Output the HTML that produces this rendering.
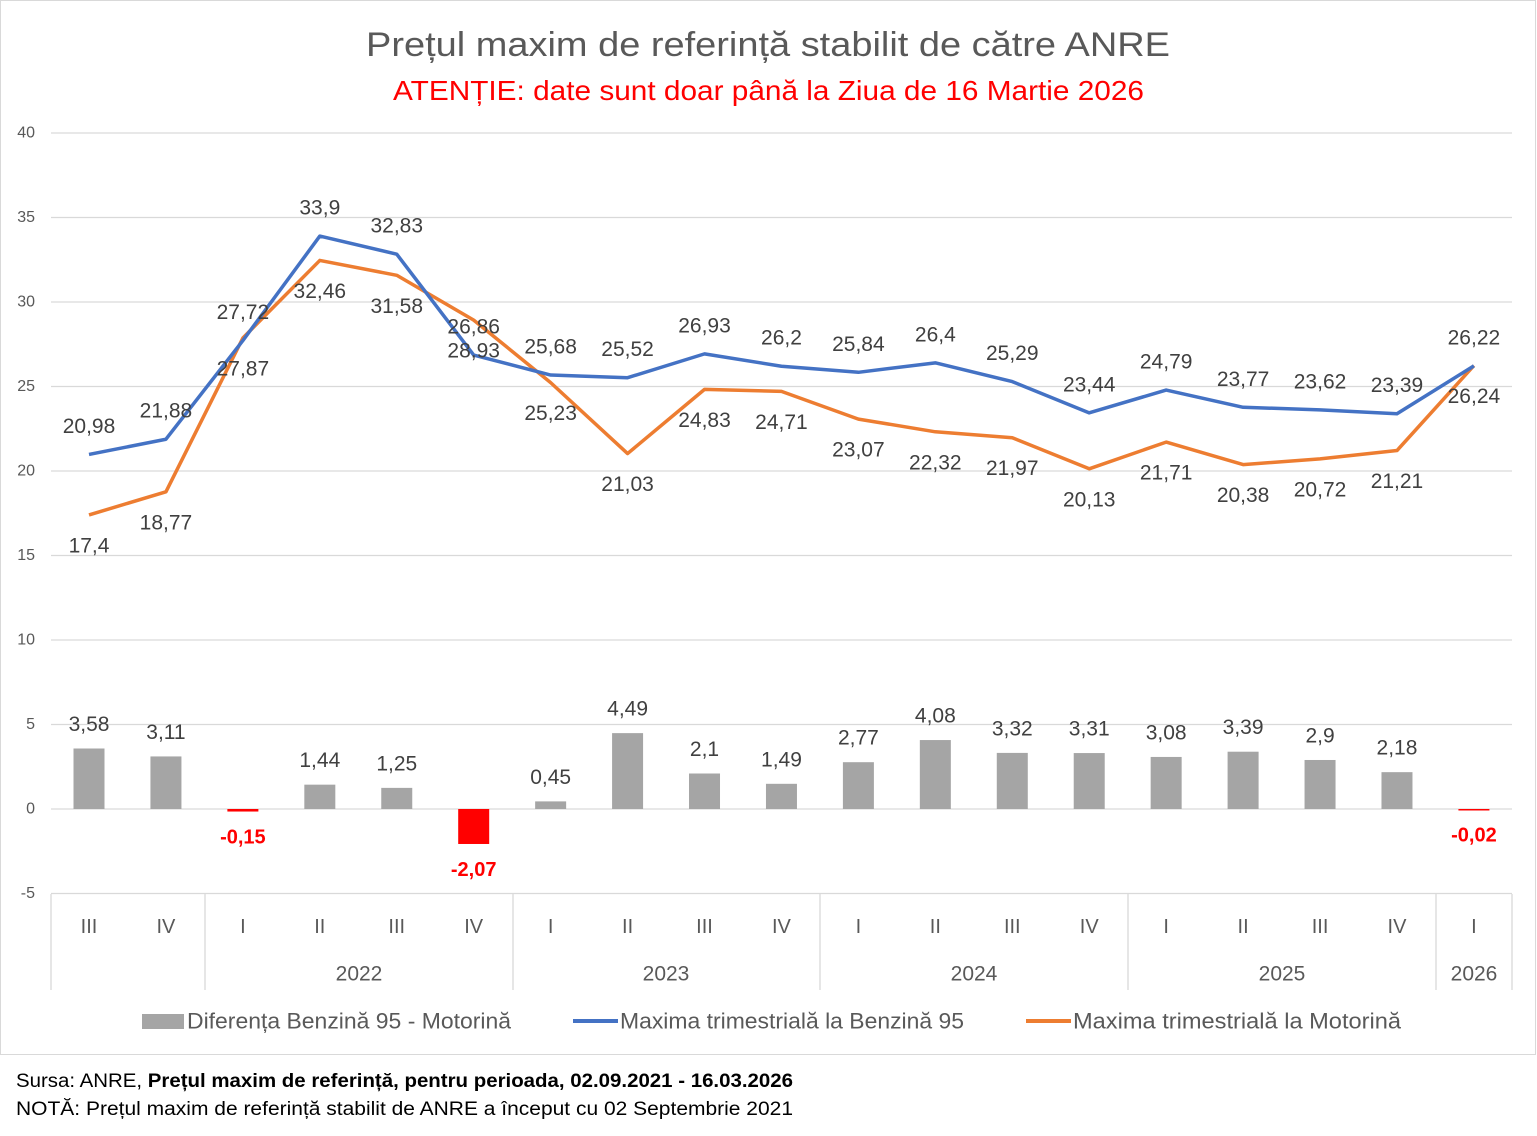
<!DOCTYPE html>
<html><head><meta charset="utf-8"><style>
body{margin:0;background:#fff;width:1537px;height:1131px;overflow:hidden;font-family:"Liberation Sans",Calibri,sans-serif}
</style></head><body>
<svg id="s" width="1537" height="1131" xmlns="http://www.w3.org/2000/svg" font-family="Liberation Sans, sans-serif">
<rect x="0.5" y="0.5" width="1535" height="1054" fill="#fff" stroke="#d9d9d9"/>
<text x="366" y="56" font-size="34" fill="#595959" textLength="804" lengthAdjust="spacingAndGlyphs">Prețul maxim de referință stabilit de către ANRE</text>
<text x="393" y="100" font-size="28" fill="#ff0000" textLength="751" lengthAdjust="spacingAndGlyphs">ATENȚIE: date sunt doar până la Ziua de 16 Martie 2026</text>
<text x="16" y="1087" font-size="19" fill="#000" textLength="777" lengthAdjust="spacingAndGlyphs">Sursa: ANRE, <tspan font-weight="bold">Prețul maxim de referință, pentru perioada, 02.09.2021 - 16.03.2026</tspan></text>
<text x="16" y="1115" font-size="19" fill="#000" textLength="777" lengthAdjust="spacingAndGlyphs">NOTĂ:  Prețul maxim de referință stabilit de ANRE a început cu 02 Septembrie 2021</text>
<g id="g"></g>
</svg>
<script>
var B=[20.98,21.88,27.72,33.9,32.83,26.86,25.68,25.52,26.93,26.2,25.84,26.4,25.29,23.44,24.79,23.77,23.62,23.39,26.22];
var O=[17.4,18.77,27.87,32.46,31.58,28.93,25.23,21.03,24.83,24.71,23.07,22.32,21.97,20.13,21.71,20.38,20.72,21.21,26.24];
var D=[3.58,3.11,-0.15,1.44,1.25,-2.07,0.45,4.49,2.1,1.49,2.77,4.08,3.32,3.31,3.08,3.39,2.9,2.18,-0.02];
var Q=["III","IV","I","II","III","IV","I","II","III","IV","I","II","III","IV","I","II","III","IV","I"];
function X(i){return 89+76.94*i}function Y(v){return 809-16.9*v}
function f(v){return String(v).replace('.',',')}
var h='';
for(var k=0;k<=9;k++){var v=40-5*k,y=Y(v);h+='<line x1="51" x2="1512" y1="'+y+'" y2="'+y+'" stroke="#d9d9d9" stroke-width="1.3"/>';
h+='<text x="35" y="'+y+'" text-anchor="end" font-size="16" fill="#595959" dominant-baseline="central">'+v+'</text>';}
[51,205,513,820,1128,1436,1512].forEach(function(x){h+='<line x1="'+x+'" x2="'+x+'" y1="894" y2="990" stroke="#d9d9d9" stroke-width="1.3"/>'});
Q.forEach(function(q,i){h+='<text x="'+X(i)+'" y="927" text-anchor="middle" font-size="20" fill="#595959" dominant-baseline="central">'+q+'</text>'});
[[359,"2022"],[666,"2023"],[974,"2024"],[1282,"2025"],[1474,"2026"]].forEach(function(a){h+='<text x="'+a[0]+'" y="974" text-anchor="middle" font-size="21" fill="#595959" dominant-baseline="central">'+a[1]+'</text>'});
D.forEach(function(d,i){var x=X(i)-15.5,y0=Y(0),y1=Y(d);var neg=d<0;
h+='<rect x="'+x+'" y="'+Math.min(y0,y1)+'" width="31" height="'+Math.max(1.5,Math.abs(y1-y0))+'" fill="'+(neg?'#ff0000':'#a5a5a5')+'"/>';
if(neg)h+='<text x="'+X(i)+'" y="'+(y1+26)+'" text-anchor="middle" font-size="20" font-weight="bold" fill="#ff0000" dominant-baseline="central">'+f(d)+'</text>';
else h+='<text x="'+X(i)+'" y="'+(y1-24)+'" text-anchor="middle" font-size="21" fill="#404040" dominant-baseline="central">'+f(d)+'</text>';});
function line(a,c){return '<polyline fill="none" stroke="'+c+'" stroke-width="3.5" stroke-linejoin="round" points="'+a.map(function(v,i){return X(i)+','+Y(v)}).join(' ')+'"/>'}
h+=line(O,'#ed7d31')+line(B,'#4472c4');
B.forEach(function(v,i){h+='<text x="'+X(i)+'" y="'+(Y(v)-28)+'" text-anchor="middle" font-size="21" fill="#404040" dominant-baseline="central">'+f(v)+'</text>'});
O.forEach(function(v,i){h+='<text x="'+X(i)+'" y="'+(Y(v)+31)+'" text-anchor="middle" font-size="21" fill="#404040" dominant-baseline="central">'+f(v)+'</text>'});
h+='<rect x="142" y="1014" width="42" height="15" fill="#a5a5a5"/><text x="187" y="1021" font-size="22" fill="#595959" dominant-baseline="central" textLength="324" lengthAdjust="spacingAndGlyphs">Diferența Benzină 95 - Motorină</text>';
h+='<line x1="573" x2="618" y1="1021" y2="1021" stroke="#4472c4" stroke-width="4"/><text x="620" y="1021" font-size="22" fill="#595959" dominant-baseline="central" textLength="344" lengthAdjust="spacingAndGlyphs">Maxima trimestrială la Benzină 95</text>';
h+='<line x1="1026" x2="1071" y1="1021" y2="1021" stroke="#ed7d31" stroke-width="4"/><text x="1073" y="1021" font-size="22" fill="#595959" dominant-baseline="central" textLength="328" lengthAdjust="spacingAndGlyphs">Maxima trimestrială la Motorină</text>';
document.getElementById('g').innerHTML=h;
</script>
</body></html>
